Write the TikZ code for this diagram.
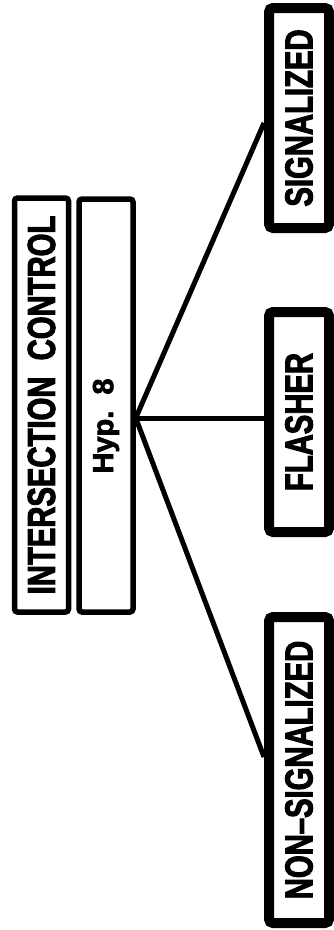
\documentclass[tikz,border=0pt]{standalone}
\usepackage{fontspec}
\usetikzlibrary{calc}
% narrow heavy capitals for the boxes
\newfontfamily\boxfont[FakeStretch=0.75, FakeBold=2.5, Ligatures=TeX]{Liberation Sans Bold}
\newfontfamily\hypfont[FakeBold=2.5]{Liberation Sans Bold}
\tikzset{
    leftbox/.style={draw, line width=5.5pt, rounded corners=3pt, rotate=90,
        inner sep=0pt, minimum height=54pt,
        font=\boxfont\fontsize{39}{40}\selectfont},
    rightbox/.style={draw, line width=10pt, rounded corners=4pt, rotate=90,
        inner sep=0pt, minimum height=60pt, minimum width=220pt,
        font=\boxfont\fontsize{39}{40}\selectfont},
    hyplabel/.style={rotate=90, inner sep=0pt,
        font=\hypfont\fontsize{29}{30}\selectfont},
    branch/.style={line width=5pt}
}
\begin{document}
\begin{tikzpicture}[x=1pt, y=-1pt]
    \useasboundingbox (0,0) rectangle (333,930);
    % hypothesis boxes
    \node[leftbox, minimum width=414pt] (title) at (41.5,405) {INTERSECTION\ \ CONTROL};
    \node[leftbox, minimum width=413pt] (hyp) at (106,405.5) {};
    \node[hyplabel] (hyptext) at (106,426) {Hyp.\ \ 8};
    % the three outcomes
    \node[rightbox] (sig) at (299,118) {SIGNALIZED};
    \node[rightbox] (flash) at (299,422) {FLASHER};
    \node[rightbox, minimum width=306pt] (nonsig) at (299,770) {NON--SIGNALIZED};
    \coordinate (hub) at ($(hyp.south)+(0,12.5)$);
    \draw[branch] (hub) -- ($(sig.north)+(0,5)$);
    \draw[branch] (hub) -- (flash.north |- hub);
    \draw[branch] (hub) -- ($(nonsig.north)+(0,-13)$);
\end{tikzpicture}
\end{document}
